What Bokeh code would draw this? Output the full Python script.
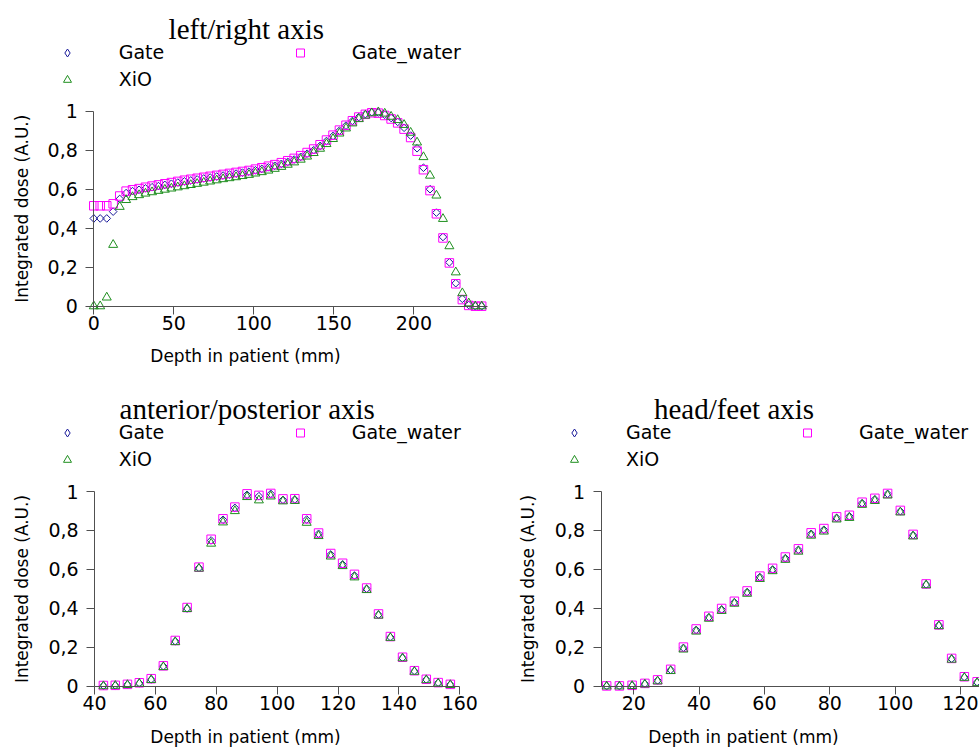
import math
from bokeh.plotting import figure
from bokeh.models import Label, Legend, LegendItem, FixedTicker, Range1d
from bokeh.layouts import column, row
from bokeh.embed import file_html
from bokeh.resources import INLINE

# ---------------- data ----------------
series_names = ["Gate", "Gate_water", "XiO"]
titles = ["left/right axis", "anterior/posterior axis", "head/feet axis"]
x_axis_label = "Depth in patient (mm)"
y_axis_label = "Integrated dose (A.U.)"

y_ticks = [0, 0.2, 0.4, 0.6, 0.8, 1]
y_tick_labels = ["0", "0,2", "0,4", "0,6", "0,8", "1"]

# left/right axis
lr_x_ticks = [0, 50, 100, 150, 200]
lr_depth = [0.0, 4.0, 8.1, 12.1, 16.2, 20.2, 24.2, 28.3, 32.3, 36.4, 40.4, 44.4, 48.5, 52.5,
            56.6, 60.6, 64.6, 68.7, 72.7, 76.8, 80.8, 84.8, 88.9, 92.9, 97.0, 101.0, 105.0,
            109.1, 113.1, 117.2, 121.2, 125.2, 129.3, 133.3, 137.4, 141.4, 145.4, 149.5,
            153.5, 157.6, 161.6, 165.6, 169.7, 173.7, 177.8, 181.8, 185.8, 189.9, 193.9,
            198.0, 202.0, 206.0, 210.1, 214.1, 218.2, 222.2, 226.2, 230.3, 234.3, 238.4, 242.4]
lr_gate = [0.45, 0.45, 0.45, 0.485, 0.55, 0.58, 0.59, 0.597, 0.604, 0.61, 0.616, 0.622, 0.628,
           0.634, 0.64, 0.645, 0.65, 0.655, 0.66, 0.665, 0.67, 0.675, 0.68, 0.685, 0.69, 0.697,
           0.704, 0.712, 0.72, 0.73, 0.74, 0.752, 0.766, 0.782, 0.80, 0.822, 0.847, 0.873, 0.90,
           0.926, 0.95, 0.97, 0.985, 0.995, 0.993, 0.982, 0.965, 0.945, 0.915, 0.875, 0.81, 0.71,
           0.60, 0.48, 0.355, 0.225, 0.118, 0.038, 0.006, 0.0, 0.0]
lr_water = [0.515, 0.515, 0.515, 0.525, 0.565, 0.59, 0.597, 0.603, 0.61, 0.616, 0.622, 0.628,
            0.634, 0.64, 0.646, 0.651, 0.656, 0.661, 0.666, 0.671, 0.676, 0.681, 0.686, 0.691,
            0.696, 0.703, 0.71, 0.718, 0.726, 0.736, 0.746, 0.758, 0.772, 0.788, 0.806, 0.828,
            0.852, 0.877, 0.903, 0.928, 0.951, 0.97, 0.984, 0.992, 0.99, 0.978, 0.96, 0.94, 0.908,
            0.865, 0.795, 0.70, 0.593, 0.474, 0.35, 0.222, 0.115, 0.034, 0.004, 0.0, 0.0]
lr_xio = [0.0, 0.0, 0.045, 0.315, 0.51, 0.545, 0.56, 0.57, 0.578, 0.585, 0.592, 0.598, 0.604,
          0.61, 0.616, 0.622, 0.628, 0.634, 0.64, 0.646, 0.652, 0.657, 0.662, 0.668, 0.674,
          0.681, 0.688, 0.696, 0.705, 0.715, 0.726, 0.738, 0.752, 0.768, 0.786, 0.808, 0.832,
          0.858, 0.886, 0.912, 0.938, 0.96, 0.978, 0.99, 0.995, 0.988, 0.972, 0.955, 0.93, 0.89,
          0.84, 0.765, 0.67, 0.568, 0.448, 0.308, 0.174, 0.067, 0.015, 0.0, 0.0]

# anterior/posterior axis
ap_x_ticks = [40, 60, 80, 100, 120, 140, 160]
ap_depth = [42.9, 46.8, 50.8, 54.7, 58.6, 62.6, 66.5, 70.4, 74.3, 78.3, 82.2, 86.1, 90.1, 94.0,
            97.9, 101.9, 105.8, 109.7, 113.6, 117.6, 121.5, 125.4, 129.4, 133.3, 137.2, 141.2,
            145.1, 149.0, 152.9, 156.9]
ap_gate = [0.004, 0.005, 0.01, 0.017, 0.036, 0.104, 0.232, 0.40, 0.608, 0.749, 0.855, 0.916,
           0.983, 0.976, 0.988, 0.957, 0.959, 0.856, 0.783, 0.677, 0.626, 0.569, 0.501, 0.368,
           0.253, 0.147, 0.079, 0.036, 0.019, 0.01]
ap_water = [0.005, 0.006, 0.011, 0.019, 0.04, 0.106, 0.236, 0.405, 0.612, 0.755, 0.86, 0.92,
            0.988, 0.98, 0.99, 0.962, 0.963, 0.86, 0.787, 0.682, 0.632, 0.575, 0.505, 0.372,
            0.256, 0.15, 0.081, 0.037, 0.02, 0.011]
ap_xio = [0.002, 0.004, 0.008, 0.015, 0.034, 0.1, 0.228, 0.398, 0.605, 0.733, 0.842, 0.9,
          0.972, 0.955, 0.975, 0.95, 0.952, 0.84, 0.772, 0.667, 0.618, 0.56, 0.495, 0.364,
          0.25, 0.145, 0.076, 0.033, 0.016, 0.008]

# head/feet axis
hf_x_ticks = [20, 40, 60, 80, 100, 120]
hf_depth = [11.7, 15.6, 19.5, 23.4, 27.3, 31.3, 35.2, 39.1, 43.0, 46.9, 50.8, 54.7, 58.6, 62.5,
            66.4, 70.4, 74.3, 78.2, 82.1, 86.0, 89.9, 93.8, 97.7, 101.6, 105.5, 109.5, 113.4,
            117.3, 121.2, 125.1]
hf_gate = [0.002, 0.002, 0.005, 0.014, 0.031, 0.085, 0.198, 0.29, 0.355, 0.395, 0.432, 0.484,
           0.561, 0.60, 0.658, 0.701, 0.783, 0.804, 0.865, 0.873, 0.94, 0.96, 0.988, 0.899,
           0.776, 0.523, 0.314, 0.142, 0.048, 0.022]
hf_water = [0.003, 0.003, 0.006, 0.016, 0.034, 0.088, 0.202, 0.295, 0.36, 0.4, 0.437, 0.49,
            0.566, 0.606, 0.664, 0.706, 0.788, 0.81, 0.87, 0.878, 0.945, 0.965, 0.99, 0.903,
            0.78, 0.526, 0.316, 0.144, 0.05, 0.024]
hf_xio = [0.001, 0.001, 0.003, 0.011, 0.027, 0.08, 0.19, 0.282, 0.348, 0.388, 0.425, 0.476,
          0.552, 0.592, 0.65, 0.692, 0.774, 0.795, 0.857, 0.865, 0.932, 0.952, 0.98, 0.893,
          0.77, 0.52, 0.31, 0.138, 0.045, 0.019]

# ---------------- style ----------------
SANS = "DejaVu Sans"
SERIF = "Liberation Serif"
BLUE = "#1a1a9a"
MAGENTA = "#ff00ff"
GREEN = "#1f8f1f"
AXIS = "#505050"


def panel(cfg, x, gate, water, xio, xticks, title):
    p = figure(width=cfg["w"], height=cfg["h"], frame_width=cfg["w"], frame_height=cfg["h"],
               x_range=Range1d(*cfg["xr"]), y_range=Range1d(*cfg["yr"]),
               min_border_left=0, min_border_right=0, min_border_top=0, min_border_bottom=0,
               output_backend="svg", toolbar_location=None)
    p.outline_line_color = None
    p.grid.visible = False
    p.background_fill_color = "white"
    p.border_fill_color = "white"

    # diamond drawn as a 45-degree square (equal width and height, as in the reference)
    r_g = p.scatter(x, gate, marker="square", angle=math.pi / 4, size=5.4,
                    fill_color=None, line_color=BLUE, line_width=1)
    # same series as a diamond marker, used only for the legend swatch
    r_g_leg = p.scatter(x, gate, marker="diamond", size=10,
                        fill_color=None, line_color=BLUE, line_width=1, visible=False)
    r_w = p.scatter(x, water, marker="square", size=8.5,
                    fill_color=None, line_color=MAGENTA, line_width=1)
    r_x = p.scatter(x, xio, marker="triangle", size=9,
                    fill_color=None, line_color=GREEN, line_width=1)

    for ax in (p.xaxis[0], p.yaxis[0]):
        ax.axis_line_color = AXIS
        ax.major_tick_line_color = AXIS
        ax.minor_tick_line_color = None
        ax.major_tick_in = 0
        ax.major_tick_out = 8
        ax.major_label_text_font = SANS
        ax.major_label_text_font_size = "19px"
        ax.major_label_text_color = "black"

    xa = p.xaxis[0]
    xa.fixed_location = 0
    xa.bounds = cfg["xb"]
    xa.ticker = FixedTicker(ticks=xticks)
    xa.major_label_overrides = {t: str(t) for t in xticks}
    xa.major_label_standoff = 2

    ya = p.yaxis[0]
    ya.fixed_location = cfg["xb"][0]
    ya.bounds = (0, 1)
    ya.ticker = FixedTicker(ticks=y_ticks)
    ya.major_label_overrides = dict(zip(y_ticks, y_tick_labels))
    ya.major_label_standoff = 8

    leg = Legend(items=[LegendItem(label=series_names[0], renderers=[r_g_leg]),
                        LegendItem(label=series_names[1], renderers=[r_w]),
                        LegendItem(label=series_names[2], renderers=[r_x])],
                 location=cfg["leg"], orientation="horizontal", nrows="auto", ncols=2,
                 glyph_width=20, glyph_height=27, label_height=27, label_width=171,
                 label_standoff=42, spacing=0, padding=0, margin=0,
                 border_line_color=None, background_fill_alpha=0, inactive_fill_alpha=0,
                 label_text_font=SANS, label_text_font_size="19px", label_text_color="black")
    p.add_layout(leg, "center")

    p.add_layout(Label(x=cfg["tt"][0], y=cfg["tt"][1], x_units="screen", y_units="screen",
                       text=title, text_font=SERIF, text_font_size="29px",
                       text_align="center", text_baseline="alphabetic", text_color="black"))
    p.add_layout(Label(x=cfg["xl"][0], y=cfg["xl"][1], x_units="screen", y_units="screen",
                       text=x_axis_label, text_font=SANS, text_font_size="17px",
                       text_align="center", text_baseline="middle", text_color="black"))
    p.add_layout(Label(x=cfg["yl"][0], y=cfg["yl"][1], x_units="screen", y_units="screen",
                       text=y_axis_label, text_font=SANS, text_font_size="17px", angle=math.pi / 2,
                       text_align="center", text_baseline="middle", text_color="black"))
    return p


# frames cover each whole figure; ranges are chosen so that the data area lands in place
cfg_a = dict(w=490, h=378, xr=(-58.3, 247.9), yr=(-0.3708, 1.5677), xb=(0, 246),
             leg=(56.7, 285.2), tt=(245.8, 349.7), xl=(245, 23), yl=(21, 169.8))
cfg_b = dict(w=490, h=378, xr=(9.08, 170.1), yr=(-0.359, 1.5795), xb=(40, 160),
             leg=(56.7, 283.2), tt=(246.7, 347.7), xl=(245, 20), yl=(21, 167.5))
cfg_c = dict(w=489, h=378, xr=(-23.85, 125.83), yr=(-0.359, 1.5795), xb=(10, 125.83),
             leg=(74, 283.2), tt=(243.5, 347.7), xl=(253, 20), yl=(37, 167.5))

pa = panel(cfg_a, lr_depth, lr_gate, lr_water, lr_xio, lr_x_ticks, titles[0])
pb = panel(cfg_b, ap_depth, ap_gate, ap_water, ap_xio, ap_x_ticks, titles[1])
pc = panel(cfg_c, hf_depth, hf_gate, hf_water, hf_xio, hf_x_ticks, titles[2])

layout = column(pa, row(pb, pc, spacing=0), spacing=0)
open("out.html", "w").write(file_html(layout, INLINE))
